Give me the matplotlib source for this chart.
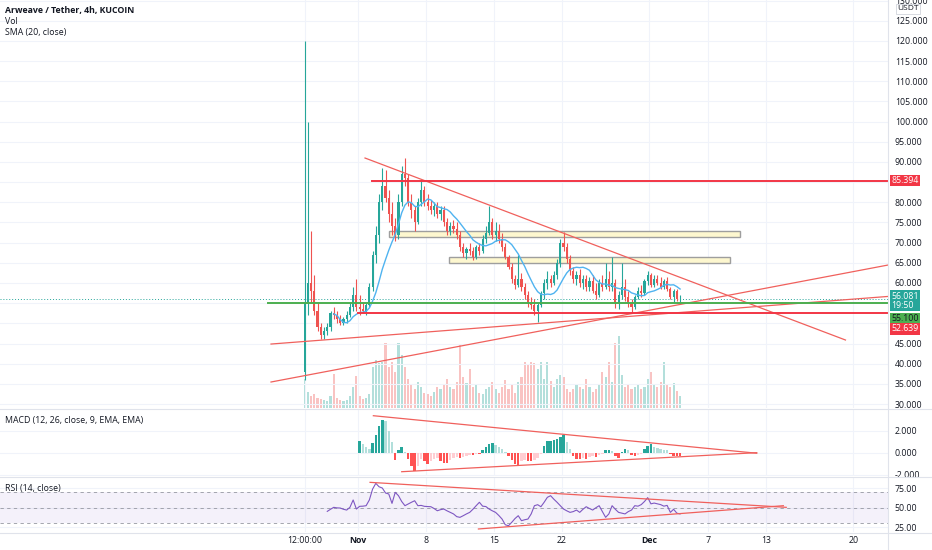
import numpy as np
import pandas as pd
import matplotlib
matplotlib.use("Agg")
import matplotlib.pyplot as plt
import matplotlib.dates as mdates
from datetime import datetime, timedelta

# ---- data (8h candles, ARUSDT KuCoin) ----
first_bar = datetime(2021, 10, 26, 12)
first_open = 38

closes = [55, 60, 58, 53, 49, 47, 48, 49, 52.5, 52,
          51, 50, 51, 52, 54, 57, 54, 53.5, 53, 54.5,
          59, 67, 72, 80, 84, 81, 77, 74, 72, 80,
          87, 86, 80, 78, 75, 80, 83, 80, 79, 78,
          79, 77, 78, 75, 73, 74, 73.5, 72, 69, 67.5,
          68.5, 68, 66.5, 69, 68, 71, 72.5, 75, 72, 73,
          71, 69, 66.5, 64, 61, 59.5, 61, 59, 57, 55,
          54.5, 53, 54.5, 57.5, 60, 61, 60, 62, 65, 70,
          69, 66, 63, 61, 62, 60, 61, 59, 60.5, 58,
          57, 60, 59, 61, 59, 60, 55, 57, 59, 56.5,
          55, 54, 56.5, 58, 57.5, 60.5, 62, 59.5, 61, 60,
          59, 60.5, 58.5, 56.5, 58, 56, 56.081]
highs = [120, 100, 73, 62, 55, 50, 49, 50, 53, 54,
         53, 52, 51.5, 53, 55, 59, 61, 57, 55, 55,
         60, 68, 74, 82, 88.5, 88, 83, 80, 76, 82,
         89, 91, 87, 82, 79, 81, 85.5, 84, 82, 80.5,
         80, 80, 79, 79, 76, 75, 75.5, 75, 73, 70,
         69, 70, 69, 69.5, 70, 72, 74, 79, 76, 75,
         74.5, 72.5, 70, 67, 65, 62, 67, 62.5, 60, 58,
         56.5, 56, 55, 58, 61, 63, 62, 63, 66, 71,
         72.6, 70, 67, 64, 63, 63.5, 62, 62, 61.5, 62,
         60, 61, 62, 65, 63, 66.5, 61, 58, 65, 61,
         58, 56, 57, 59, 59.5, 61, 63, 62.5, 62, 62,
         61.5, 61, 61.5, 59, 58.5, 58.5, 57]
lows = [36, 52, 55, 52, 48, 46, 46, 47, 48, 51,
        50, 49.5, 49.5, 50, 51.5, 53, 53, 52, 52.5, 52,
        54, 58, 65, 70, 78, 80, 75, 72, 70.5, 71,
        79, 84, 79, 76, 73, 74.5, 79, 79, 78, 77,
        76.5, 76, 75.5, 74, 72, 72, 72.5, 71, 68, 66.5,
        66, 67, 65.7, 66, 67, 67.5, 70, 72, 71, 70.5,
        70, 68, 66, 63.5, 60, 58.5, 59, 58, 56, 54,
        53.5, 52, 50.3, 54, 56, 58.5, 59, 59.5, 61, 64,
        68, 65, 62, 60, 59.5, 59, 58.5, 58, 58, 57.5,
        56, 56.5, 58, 58.5, 58, 58, 53.8, 53.5, 56, 55.5,
        54, 52.7, 53.5, 56, 56.5, 57, 59.5, 59, 59, 59.5,
        58.5, 58.5, 58, 56, 55, 55.5, 55.3]
volume = [28, 16, 12, 14, 10, 9, 8, 7, 12, 33,
          10, 8, 7, 8, 12, 20, 31, 12, 9, 10,
          14, 40, 47, 44, 45, 63, 40, 45, 35, 63,
          52, 40, 28, 22, 18, 25, 20, 15, 14, 12,
          16, 20, 18, 22, 28, 20, 18, 25, 62, 30,
          24, 38, 20, 22, 15, 14, 18, 20, 25, 18,
          15, 20, 27, 18, 22, 15, 25, 30, 45, 42,
          45, 44, 38, 45, 28, 45, 26, 20, 28, 32,
          30, 18, 16, 18, 22, 20, 18, 28, 20, 16,
          18, 22, 35, 30, 45, 25, 63, 70, 32, 20,
          22, 18, 20, 23, 18, 20, 28, 35, 22, 20,
          25, 45, 22, 20, 24, 17, 12]
macd_start = 17
macd_hist = [1.1, 0.8, 0.5, 0.3, 0.9, 1.6, 2.4, 3.0, 2.9, 2.0,
             1.0, -0.66, 0.2, 0.55, 0.1, -0.6, -1.2, -1.66, -1.2, -0.6,
             -0.8, -1.0, -0.8, -0.6, -0.5, -0.8, -0.9, -0.9, -0.7, -0.5,
             -0.4, -0.5, -0.4, -0.3, -0.2, -0.2, -0.1, -0.1, 0.2, 0.5,
             0.8, 0.9, 0.7, 0.5, 0.3, 0.1, -0.3, -0.7, -1.0, -1.1,
             -0.8, -0.7, -0.8, -0.8, -0.7, -0.5, -0.1, 0.6, 1.1, 1.1,
             1.15, 1.2, 1.4, 1.6, 1.0, 0.3, -0.3, -0.6, -0.6, -0.5,
             -0.6, -0.4, -0.3, -0.4, -0.2, -0.1, 0.2, 0.25, 0.15, -0.3,
             -0.5, 0.1, 0.3, 0.2, -0.2, -0.3, -0.2, -0.1, 0.3, 0.6,
             0.8, 0.5, 0.4, 0.3, 0.25, 0.2, -0.1, -0.3, -0.3, -0.3]
rsi_start = 7
rsi = [45.3, 48, 50.5, 49.8, 49.6, 48, 47, 50.5, 60, 48.3,
       51.8, 52, 52.6, 60, 74, 81.4, 77, 75.4, 69, 67.7,
       55.6, 69.8, 65.5, 58, 52.6, 54.8, 57, 59, 52.6, 53,
       51.8, 51.5, 51.3, 49, 46.1, 47.5, 48.3, 46, 44, 42,
       38.5, 37.6, 39.7, 42, 44, 48, 52.6, 57, 52, 51.5,
       48.3, 46, 44, 40, 35.4, 28, 26.8, 31.2, 36, 39.7,
       33.3, 34.5, 35.4, 42, 52.6, 53.9, 51.3, 57, 63.4, 65.5,
       61, 57, 52.6, 48.3, 46, 44, 45, 47, 44, 48,
       51.3, 49, 47, 50, 52.6, 45, 37.6, 42, 52.6, 48,
       44, 43, 42, 45, 47, 52.6, 52, 54, 58, 63,
       55, 56, 55, 54, 52, 53, 44, 48, 43, 42]

# user drawings: (days from Nov 1, value) anchors
price_trends = [((0.72, 90.97), (50.2, 45.87)),
                ((-8.96, 35.46), (54.6, 64.46)),
                ((-8.96, 44.87), (54.6, 56.67))]
zones = [(3.2, 39.3, 71.3, 73.0), (9.4, 38.3, 65.0, 66.4)]  # d0, d1, low, high
levels = [(1.44, 85.394, '#f23645'), (-9.27, 55.100, '#4caf50'), (0.0, 52.639, '#f23645')]
macd_trends = [((1.58, 3.36), (41.06, -0.05)), ((4.5, -1.73), (41.06, 0.0))]
rsi_trends = [((1.24, 82.7), (44.1, 50.5)), ((12.4, 22.6), (43.8, 52.6))]

price_ticks = [30, 35, 40, 45, 60, 65, 70, 75, 80, 90, 95, 100, 105, 110, 115, 120, 125, 130]
hidden_ticks = [50, 55, 85]  # covered by the price tags
xtick_dates = [datetime(2021, 10, 26, 12), datetime(2021, 11, 1), datetime(2021, 11, 8),
               datetime(2021, 11, 15), datetime(2021, 11, 22), datetime(2021, 12, 1),
               datetime(2021, 12, 7), datetime(2021, 12, 13), datetime(2021, 12, 22)]
xtick_labels = ['12:00:00', 'Nov', '8', '15', '22', 'Dec', '7', '13', '20']

GREEN = '#26a69a'
RED = '#ef5350'
TEXT = '#131722'
GRID = '#f0f3fa'
SEP = '#e0e3eb'
plt.rcParams['font.family'] = ['Open Sans', 'DejaVu Sans']

n = len(closes)
t = mdates.date2num([first_bar + timedelta(hours=8 * i) for i in range(n)])
c = np.array(closes, float)
o = np.array([first_open] + closes[:-1], float)
h = np.array(highs, float)
l = np.array(lows, float)
cols = np.where(c >= o, GREEN, RED)
nov1 = mdates.date2num(datetime(2021, 11, 1))

fig = plt.figure(figsize=(9.32, 5.5), dpi=100)
W = 888 / 932
ax = fig.add_axes([0, 1 - 408 / 550, W, 408 / 550])
axm = fig.add_axes([0, 1 - 476 / 550, W, 66 / 550], sharex=ax)
axr = fig.add_axes([0, 1 - 532 / 550, W, 55 / 550], sharex=ax)

# volume underneath the candles
axv = ax.twinx()
axv.bar(t, volume, width=0.22, color=cols, alpha=0.35, linewidth=0)
axv.set_ylim(0, max(volume) * 408 / 72)
axv.set_axis_off()
ax.set_zorder(axv.get_zorder() + 1)
ax.patch.set_visible(False)

# candles
ax.vlines(t, l, h, colors=cols, linewidth=0.8, zorder=3)
body = np.maximum(np.abs(c - o), 0.15)
ax.bar(t, body, bottom=np.minimum(o, c), width=0.22, color=cols, linewidth=0, zorder=3)
sma = pd.Series(c).rolling(10).mean()
ax.plot(t, sma, color='#4fb3f0', linewidth=1, zorder=4)

for (d0, p0), (d1, p1) in price_trends:
    ax.plot([nov1 + d0, nov1 + d1], [p0, p1], color='#f0605c', linewidth=0.9, zorder=5)
for d0, d1, lo, hi in zones:
    ax.add_patch(plt.Rectangle((nov1 + d0, lo), d1 - d0, hi - lo, facecolor='#fdf7cf',
                               edgecolor='#9e9e9e', linewidth=1, zorder=2))
for d0, p, col in levels:
    ax.plot([nov1 + d0, nov1 + 60], [p, p], color=col, linewidth=1.4, zorder=5)
ax.axhline(closes[-1], color=GREEN, linewidth=0.7, linestyle=(0, (1, 2)), zorder=1)

ax.set_ylim(29.02, 130.13)
ax.set_xlim(nov1 - 36.87, nov1 + 54.58)
ax.set_yticks(price_ticks)
ax.set_yticks(hidden_ticks, minor=True)
ax.yaxis.set_major_formatter(matplotlib.ticker.FormatStrFormatter('%.3f'))
ax.grid(True, which='minor', axis='y', color=GRID, linewidth=0.8)
ax.tick_params(axis='y', which='minor', length=0, labelright=False)

# MACD histogram
mh = np.array(macd_hist)
prev = np.concatenate([[0], mh[:-1]])
mcols = []
for v, pv in zip(mh, prev):
    if v >= 0:
        mcols.append('#26a69a' if v >= pv else '#b2dfdb')
    else:
        mcols.append('#ff5252' if v <= pv else '#ffcdd2')
axm.bar(t[macd_start:macd_start + len(mh)], mh, width=0.25, color=mcols, linewidth=0)
for (d0, v0), (d1, v1) in macd_trends:
    axm.plot([nov1 + d0, nov1 + d1], [v0, v1], color='#f0605c', linewidth=0.9)
axm.set_ylim(-2.12, 3.88)
axm.set_yticks([-2, 0, 2])
axm.yaxis.set_major_formatter(matplotlib.ticker.FormatStrFormatter('%.3f'))

# RSI
axr.axhspan(30, 70, color='#7e57c2', alpha=0.08, linewidth=0)
for lv in (70, 50, 30):
    axr.axhline(lv, color='#9598a1', linewidth=0.6, linestyle=(0, (4, 4)))
axr.plot(t[rsi_start:rsi_start + len(rsi)], rsi, color='#7e57c2', linewidth=0.8)
for (d0, v0), (d1, v1) in rsi_trends:
    axr.plot([nov1 + d0, nov1 + d1], [v0, v1], color='#f0605c', linewidth=0.9)
axr.set_ylim(18.7, 89.6)
axr.set_yticks([25, 50, 75])
axr.yaxis.set_major_formatter(matplotlib.ticker.FormatStrFormatter('%.2f'))

for a in (ax, axm, axr):
    for s in a.spines.values():
        s.set_visible(False)
    a.yaxis.tick_right()
    a.tick_params(axis='y', length=0, pad=5, labelsize=6.3, labelcolor=TEXT)
    a.tick_params(axis='x', length=0)
    a.set_xticks(mdates.date2num(xtick_dates))
    a.grid(True, color=GRID, linewidth=0.8)
    a.set_axisbelow(True)
ax.tick_params(axis='x', labelbottom=False)
axm.tick_params(axis='x', labelbottom=False)
axr.set_xticklabels(xtick_labels)
axr.tick_params(axis='x', labelsize=6.3, labelcolor=TEXT, pad=3)
for lab in axr.get_xticklabels():
    if lab.get_text() in ('Nov', 'Dec'):
        lab.set_fontweight('bold')

# price scale labels
ytr = ax.get_yaxis_transform()
def tag(val, txt, face, fg, dy=0):
    ax.annotate(txt, xy=(1, val), xycoords=ytr, xytext=(3, dy), textcoords='offset pixels',
                ha='left', va='center', fontsize=6.3, color=fg, annotation_clip=False,
                linespacing=1.0,
                bbox=dict(boxstyle='square,pad=0.15', facecolor=face, edgecolor='none'))
tag(85.394, '85.394', '#f23645', 'white')
tag(closes[-1], '56.081\n19:50', GREEN, 'white', dy=-2)
tag(55.100, '55.100', '#4caf50', TEXT, dy=-16)
tag(52.639, '52.639', '#f23645', 'white', dy=-16)
fig.text(908 / 932, 1 - 9 / 550, 'USDT', ha='center', va='center', fontsize=6, color=TEXT,
         bbox=dict(boxstyle='square,pad=0.2', facecolor='white', edgecolor='#d1d4dc', linewidth=0.6))

# panel separators
for yy in (409, 476.5, 532.5):
    fig.add_artist(plt.Line2D([0, 1], [1 - yy / 550] * 2, color=SEP, linewidth=0.8))
fig.add_artist(plt.Line2D([W, W], [0, 1], color=SEP, linewidth=0.8))

fig.text(5 / 932, 1 - 10 / 550, 'Arweave / Tether, 4h, KUCOIN', fontsize=6.3, fontweight='bold',
         color=TEXT, va='center')
fig.text(5 / 932, 1 - 21 / 550, 'Vol', fontsize=6.3, color=TEXT, va='center')
fig.text(5 / 932, 1 - 32 / 550, 'SMA (20, close)', fontsize=6.3, color=TEXT, va='center')
fig.text(5 / 932, 1 - 420 / 550, 'MACD (12, 26, close, 9, EMA, EMA)', fontsize=6.3, color=TEXT, va='center')
fig.text(5 / 932, 1 - 489 / 550, 'RSI (14, close)', fontsize=6.3, color=TEXT, va='center')

fig.savefig('out.png', dpi=100, facecolor='white')
